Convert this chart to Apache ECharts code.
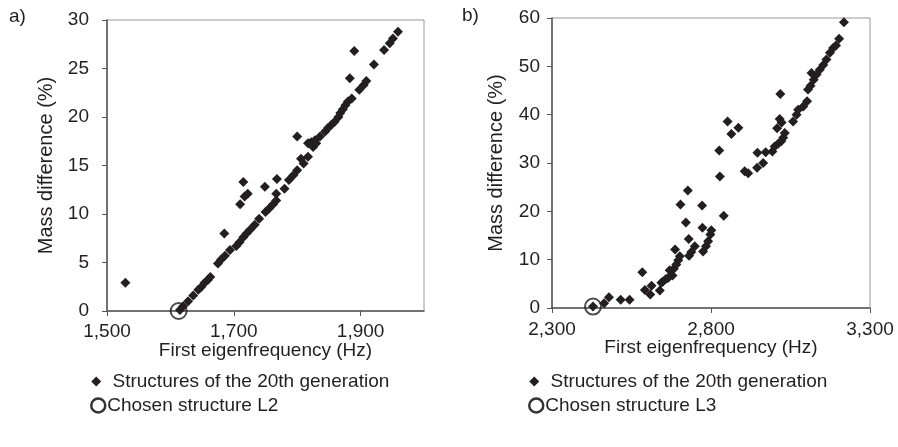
<!DOCTYPE html>
<html>
<head>
<meta charset="utf-8">
<script src="https://cdn.jsdelivr.net/npm/echarts@6/dist/echarts.min.js"></script>
<style>
  html, body { margin: 0; padding: 0; background: #fff; }
  #main { width: 898px; height: 447px; }
</style>
</head>
<body>
<div id="main"></div>
<script>
// a) first eigenfrequency (Hz) vs mass difference (%)
var freqA = [1529, 1615, 1620, 1628, 1636, 1644, 1649, 1654, 1659, 1663,
  1675, 1680, 1686, 1694, 1685, 1704, 1709, 1715, 1720, 1726, 1733, 1740,
  1750, 1756, 1762, 1767, 1767, 1780, 1787, 1794, 1800, 1715, 1710, 1717,
  1722, 1749, 1768, 1800, 1806, 1810, 1817, 1817, 1822, 1828, 1825, 1830,
  1836, 1844, 1849, 1854, 1859, 1865, 1868, 1872, 1876, 1880, 1886, 1883,
  1890, 1898, 1905, 1909, 1921, 1937, 1946, 1951, 1959];
var massA = [2.9, 0.1, 0.5, 1.0, 1.6, 2.2, 2.5, 2.9, 3.2, 3.5,
  4.9, 5.3, 5.7, 6.3, 8.0, 6.7, 7.1, 7.6, 8.0, 8.4, 8.9, 9.5,
  10.2, 10.6, 11.0, 11.4, 12.1, 12.6, 13.5, 14.0, 14.5, 13.3, 11.0, 11.8,
  12.1, 12.8, 13.6, 18.0, 15.7, 15.2, 15.9, 17.3, 17.4, 17.6, 16.9, 17.3,
  18.0, 18.5, 18.9, 19.2, 19.5, 20.0, 20.4, 20.8, 21.2, 21.6, 21.9, 24.0,
  26.8, 22.8, 23.3, 23.7, 25.4, 26.9, 27.6, 28.1, 28.8];
var chosenA = [1613, 0];

// b)
var freqB = [2429, 2464, 2479, 2516, 2544, 2584, 2592, 2613, 2609, 2639,
  2644, 2649, 2658, 2665, 2679, 2670, 2683, 2687, 2691, 2697, 2702,
  2704, 2721, 2727, 2730, 2731, 2738, 2749, 2772, 2773, 2775, 2784, 2791,
  2798, 2801, 2840, 2828, 2826, 2852, 2864, 2886, 2906, 2917, 2945, 2946,
  2964, 2972, 2993, 3000, 3011, 3021, 3027, 3032, 3008, 3016, 3022, 3018,
  3058, 3069, 3074, 3090, 3102, 3105, 3113, 3116, 3123, 3132, 3142, 3153,
  3163, 3174, 3184, 3193, 3203, 3218];
var massB = [0.3, 1.0, 2.2, 1.7, 1.7, 7.4, 3.7, 4.6, 2.8, 3.6,
  5.2, 5.5, 6.0, 6.2, 6.7, 7.8, 8.1, 12.1, 9.0, 9.9, 10.7,
  21.4, 17.7, 24.3, 14.3, 10.8, 11.6, 12.8, 21.2, 16.6, 11.7, 12.8, 13.8,
  15.2, 16.1, 19.1, 27.2, 32.6, 38.6, 36.0, 37.3, 28.3, 27.9, 29.0, 32.1,
  30.0, 32.2, 32.4, 33.4, 34.0, 34.5, 35.2, 36.2, 37.2, 39.1, 38.4, 44.3,
  38.6, 40.0, 41.0, 41.7, 42.8, 45.2, 46.0, 48.6, 47.2, 48.3, 49.3, 50.3,
  51.4, 52.8, 53.8, 54.3, 55.7, 59.1];
var chosenB = [2429, 0.3];

function pairs(xs, ys) {
  var out = [];
  for (var i = 0; i < xs.length; i++) out.push([xs[i], ys[i]]);
  return out;
}

var txt = '#231f20';
var font = 'Liberation Sans, Arial, sans-serif';
// small diamond inside a 14x14 box
var diamondIcon = 'path://M0,0 M14,14 M5,2 L10,7 L5,12 L0,7 Z';

function xAxisOf(idx, min, max, step, margin) {
  return {
    gridIndex: idx, type: 'value', min: min, max: max, interval: step,
    name: 'First eigenfrequency (Hz)', nameLocation: 'middle', nameGap: 30, nameMoveOverlap: false,
    nameTextStyle: { color: txt, fontSize: 19, fontFamily: font },
    axisLine: { lineStyle: { color: '#555', width: 1.5 } },
    axisTick: { show: true, length: 5, lineStyle: { color: '#555' } },
    axisLabel: { color: txt, fontSize: 19, fontFamily: font, margin: margin, showMaxLabel: idx === 1,
      formatter: function (v) { return v.toLocaleString('en-US'); } },
    splitLine: { show: false }
  };
}
function yAxisOf(idx, max, step, margin, gap) {
  return {
    gridIndex: idx, type: 'value', min: 0, max: max, interval: step,
    name: 'Mass difference (%)', nameLocation: 'middle', nameGap: gap, nameMoveOverlap: false,
    nameTextStyle: { color: txt, fontSize: 20, fontFamily: font },
    axisLine: { show: true, lineStyle: { color: '#555', width: 1.5 } },
    axisTick: { show: true, length: 5, lineStyle: { color: '#555' } },
    axisLabel: { color: txt, fontSize: 19, fontFamily: font, margin: margin },
    splitLine: { show: false }
  };
}
function legendOf(left, first, second) {
  return {
    left: left, top: 367, orient: 'vertical', itemGap: 5, itemWidth: 14, itemHeight: 14,
    textStyle: { color: txt, fontSize: 19, fontFamily: font, padding: [0, 0, 0, -3] },
    formatter: function (n) { return n.indexOf('Structures') === 0 ? ' ' + n.trim() : n; },
    data: [{ name: first, icon: diamondIcon, itemStyle: { color: txt } },
           { name: second, icon: 'circle', itemStyle: { borderWidth: 2.5, borderColor: '#000' } }]
  };
}

var chart = echarts.init(document.getElementById('main'));
chart.setOption({
  animation: false,
  title: [
    { text: 'a)', left: 4, top: 2, textStyle: { color: txt, fontSize: 19, fontWeight: 'normal', fontFamily: font } },
    { text: 'b)', left: 457, top: 1, textStyle: { color: txt, fontSize: 19, fontWeight: 'normal', fontFamily: font } }
  ],
  grid: [
    { left: 107, right: 474, top: 20, bottom: 136, show: true, borderColor: '#999', borderWidth: 1 },
    { left: 552, right: 28, top: 18, bottom: 139, show: true, borderColor: '#999', borderWidth: 1 }
  ],
  xAxis: [xAxisOf(0, 1500, 2000, 200, 11), xAxisOf(1, 2300, 3300, 500, 12)],
  yAxis: [yAxisOf(0, 30, 5, 18, 51), yAxisOf(1, 60, 10, 12, 46)],
  legend: [
    legendOf(85, 'Structures of the 20th generation', 'Chosen structure L2'),
    legendOf(523, 'Structures of the 20th generation ', 'Chosen structure L3')
  ],
  series: [
    { name: 'Structures of the 20th generation', type: 'scatter', xAxisIndex: 0, yAxisIndex: 0,
      symbol: 'diamond', symbolSize: 10, itemStyle: { color: txt, opacity: 1 }, data: pairs(freqA, massA) },
    { name: 'Chosen structure L2', type: 'scatter', xAxisIndex: 0, yAxisIndex: 0,
      symbol: 'circle', symbolSize: 16, z: 3,
      itemStyle: { color: 'rgba(0,0,0,0)', borderColor: txt, borderWidth: 2 }, data: [chosenA] },
    { name: 'Structures of the 20th generation ', type: 'scatter', xAxisIndex: 1, yAxisIndex: 1,
      symbol: 'diamond', symbolSize: 10, itemStyle: { color: txt, opacity: 1 }, data: pairs(freqB, massB) },
    { name: 'Chosen structure L3', type: 'scatter', xAxisIndex: 1, yAxisIndex: 1,
      symbol: 'circle', symbolSize: 16, z: 3,
      itemStyle: { color: 'rgba(0,0,0,0)', borderColor: txt, borderWidth: 2 }, data: [chosenB] }
  ]
});
</script>
</body>
</html>
